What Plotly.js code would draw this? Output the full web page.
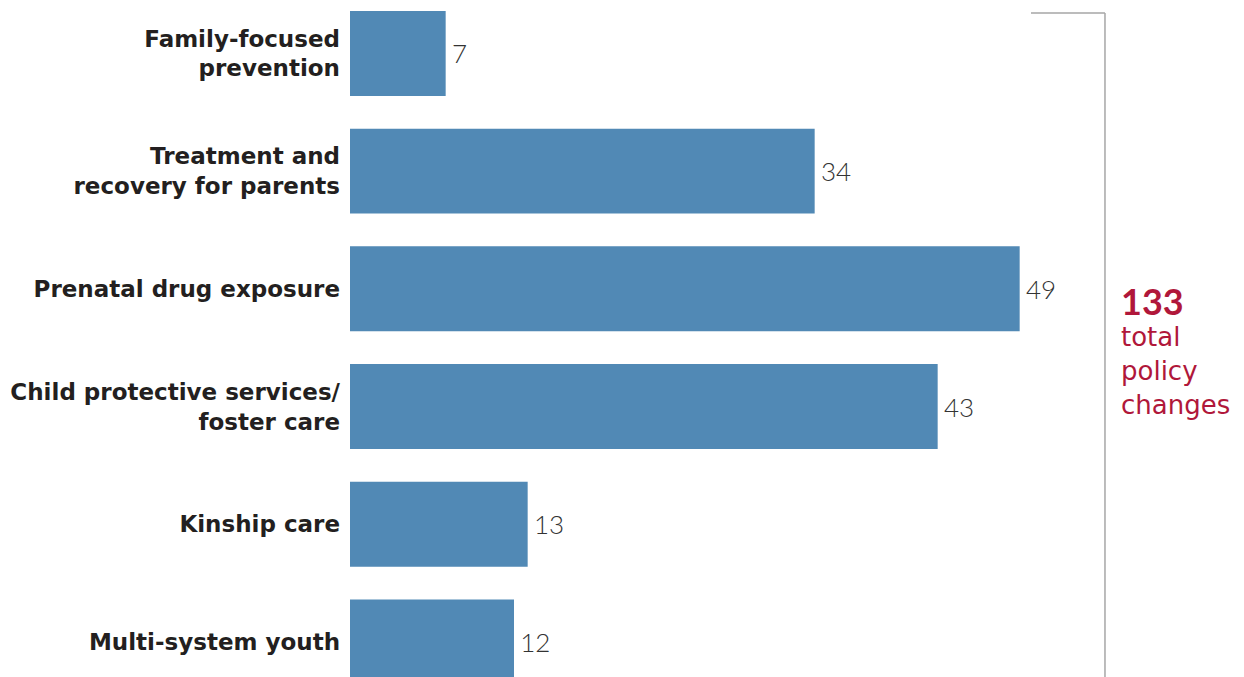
<!DOCTYPE html>
<html>
<head>
<meta charset="utf-8">
<script src="https://cdn.plot.ly/plotly-3.0.1.min.js"></script>
<style>html,body{margin:0;padding:0;background:#fff;}#chart{width:1244px;height:677px;}</style>
</head>
<body>
<div id="chart"></div>
<script>
const categories = [
  "Family-focused<br>prevention",
  "Treatment and<br>recovery for parents",
  "Prenatal drug exposure",
  "Child protective services/<br>foster care",
  "Kinship care",
  "Multi-system youth"
];
const values = [7, 34, 49, 43, 13, 12];
const totalValue = 133;
const totalLabel = "total<br>policy<br>changes";

const trace = {
  type: "bar",
  orientation: "h",
  y: categories,
  x: values,
  width: 0.722,
  marker: {color: "#5189b5"},
  texttemplate: "\u2009%{x}",
  textposition: "outside",
  cliponaxis: false,
  textfont: {family: "Lato", size: 26, weight: 300, color: "#333333"},
  hoverinfo: "skip"
};

const layout = {
  width: 1244,
  height: 677,
  margin: {l: 350, r: 74, t: 0, b: 0, pad: 0},
  paper_bgcolor: "#ffffff",
  plot_bgcolor: "#ffffff",
  showlegend: false,
  xaxis: {range: [0, 60], visible: false, fixedrange: true},
  yaxis: {
    type: "category",
    range: [5.298, -0.454],
    showgrid: false, zeroline: false, showline: false,
    ticks: "", ticklabelstandoff: 9,
    tickfont: {family: "DejaVu Sans", size: 23, weight: "bold", color: "#231f20"},
    fixedrange: true
  },
  shapes: [
    {type: "line", xref: "paper", yref: "paper", x0: 0.8305, x1: 0.9207, y0: 0.9808, y1: 0.9808,
     line: {color: "#a6a6a6", width: 1.5}},
    {type: "line", xref: "paper", yref: "paper", x0: 0.9207, x1: 0.9207, y0: 0.9808, y1: 0,
     line: {color: "#a6a6a6", width: 1.5}}
  ],
  annotations: [
    {xref: "paper", yref: "paper", x: 0.9378, y: 0.555, xanchor: "left", yanchor: "middle",
     text: "<b>" + totalValue + "</b>", showarrow: false,
     font: {family: "Lato", size: 36, color: "#b0173a"}},
    {xref: "paper", yref: "paper", x: 0.9378, y: 0.527, xanchor: "left", yanchor: "top", align: "left",
     text: totalLabel, showarrow: false,
     font: {family: "DejaVu Sans", size: 26, color: "#b0173a"}}
  ]
};

Plotly.newPlot("chart", [trace], layout, {displayModeBar: false, staticPlot: true});
</script>
</body>
</html>
